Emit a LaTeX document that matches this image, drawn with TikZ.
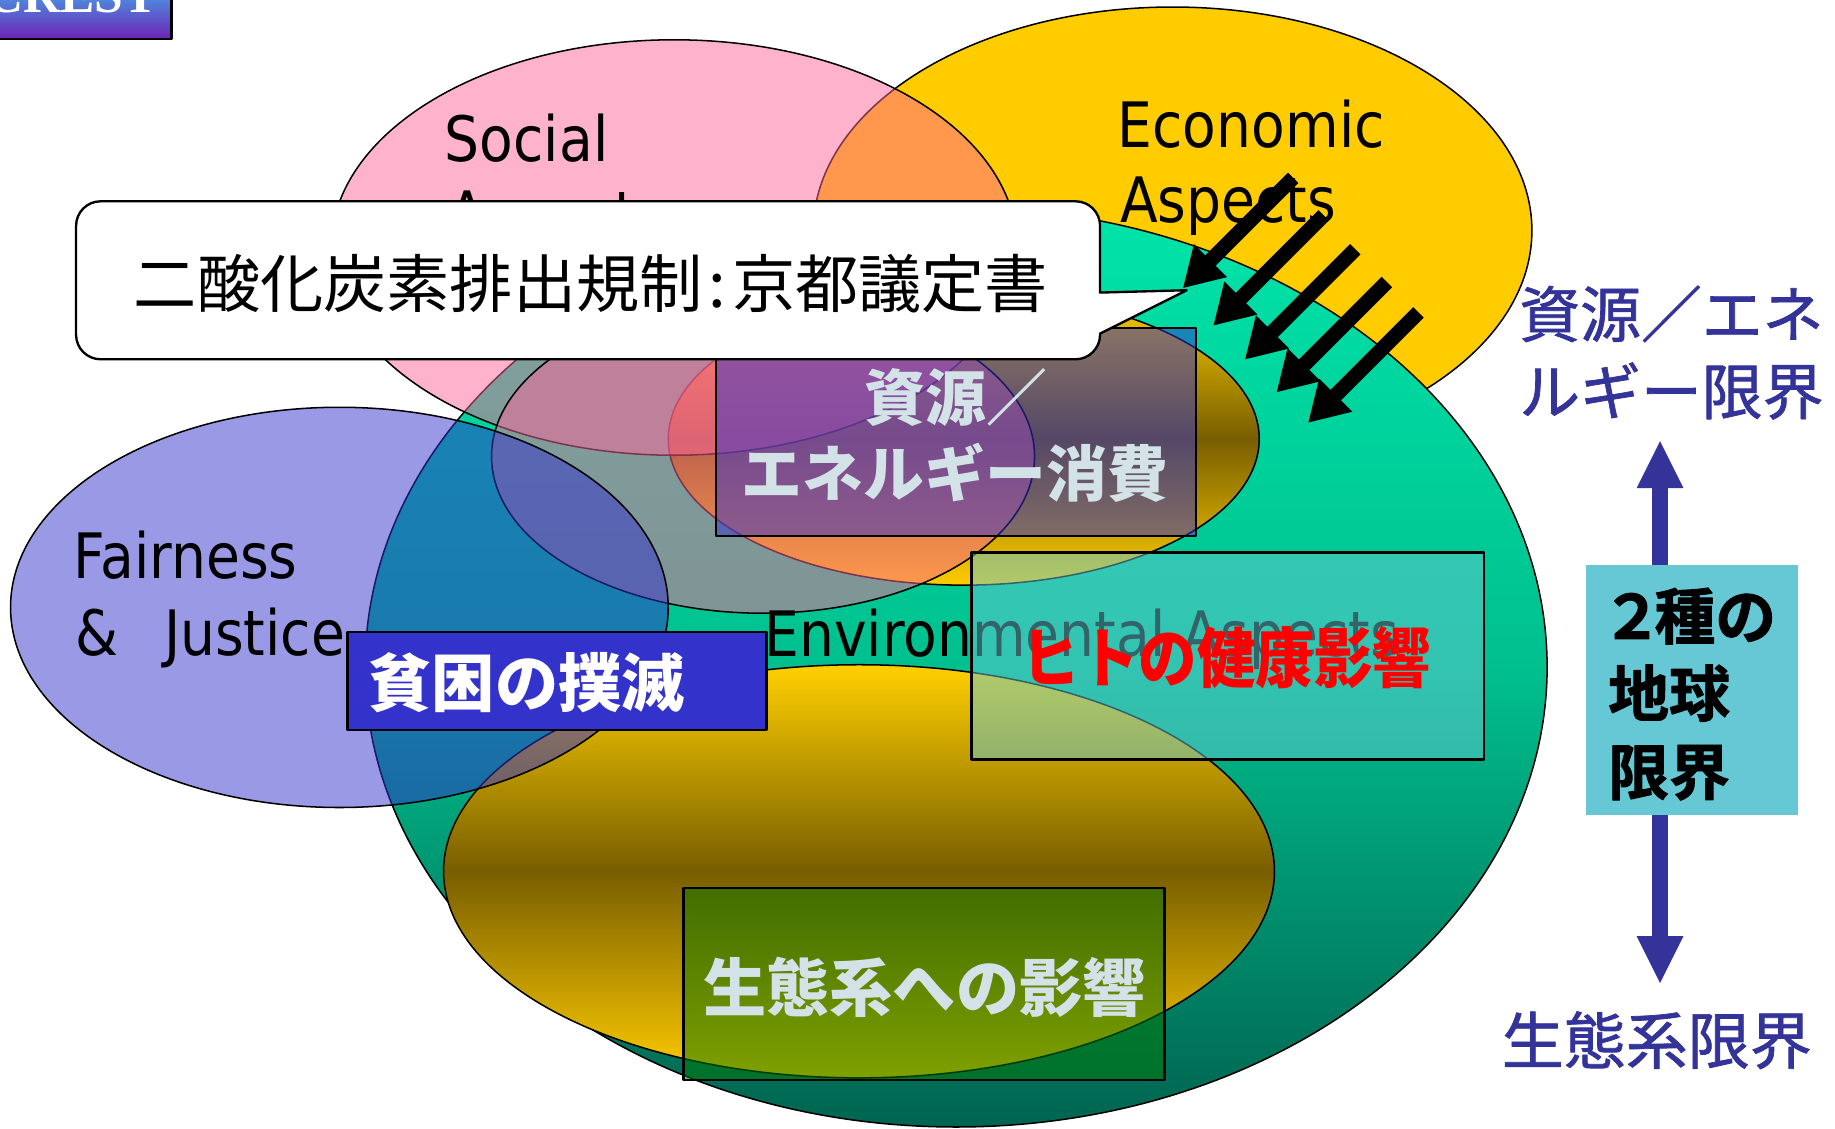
\documentclass[tikz,border=0pt]{standalone}
\usepackage{fontspec}
\newfontfamily\lat[FakeStretch=0.88]{DejaVu Sans}
\newfontfamily\jp{Noto Sans CJK JP}
\newfontfamily\jpmed[FakeBold=1.2]{Noto Sans CJK JP}
\newfontfamily\jpheavy[UprightFont={* Bold}, FakeBold=1.5, RawFeature=+palt]{Noto Sans CJK JP}
\newfontfamily\ser{Liberation Serif}
\definecolor{pinkc}{RGB}{255,102,153}
\definecolor{yel}{RGB}{255,204,0}
\definecolor{fairc}{RGB}{51,51,204}
\definecolor{navyc}{RGB}{51,51,153}
\definecolor{cyanb}{RGB}{102,200,212}
\definecolor{greenb}{RGB}{0,118,0}
\definecolor{lightt}{RGB}{210,226,230}
\definecolor{gtop}{RGB}{0,228,170}
\definecolor{gmid}{RGB}{0,192,142}
\definecolor{gbot}{RGB}{0,100,80}
\definecolor{ytop}{RGB}{255,208,0}
\definecolor{ymid}{RGB}{120,94,0}
\definecolor{ybot}{RGB}{255,204,0}
\definecolor{crestA}{RGB}{75,145,225}
\definecolor{crestB}{RGB}{110,35,180}
\tikzset{
  outl/.style={draw=black, line width=1.3pt},
  boxl/.style={draw=black, line width=2pt},
  ybshade/.style={top color=ytop, bottom color=ybot, middle color=ymid},
  latin/.style={inner sep=0pt, anchor=base west, font=\lat\fontsize{53.5}{64}\selectfont},
  jpb/.style={inner sep=0pt, anchor=base, font=\jp\bfseries\fontsize{#1}{#1}\selectfont},
  jph/.style={inner sep=0pt, anchor=base west, font=\jpheavy\fontsize{#1}{#1}\selectfont},
  jpr/.style={inner sep=0pt, anchor=base west, font=\jpmed\fontsize{#1}{#1}\selectfont},
  blockarrow/.style={fill=black, draw=none}
}
\begin{document}
\begin{tikzpicture}[x=1pt,y=-1pt,line join=round]
\useasboundingbox (0,0) rectangle (1568,964);
% CREST logo (cut by the top edge)
\shade[top color=crestA, bottom color=crestB] (-5,-5) rectangle (146.5,33.4);
\node[anchor=base west, inner sep=0pt, text=white, font={\ser\bfseries\fontsize{44}{44}\selectfont}] (crest) at (-12,10.5) {CREST};
\draw[line width=2.4pt] (-5,-5) rectangle (146.5,33.4);

% Economic aspects
\draw[outl, fill=yel] (1002,197) ellipse [x radius=307pt, y radius=191pt];
% Environmental aspects
\path[outl, top color=gtop, bottom color=gbot, middle color=gmid] (817,570) ellipse [x radius=505pt, y radius=393pt];
% resource ellipse
\path[outl, ybshade] (823.5,375) ellipse [x radius=252.5pt, y radius=125pt];
% ecosystem ellipse
\path[outl, ybshade] (734,744.5) ellipse [x radius=355pt, y radius=176.5pt];
% Social aspects
\draw[outl, fill=pinkc, fill opacity=0.5] (576,211.5) ellipse [x radius=293pt, y radius=177.5pt];
% inner pink ellipse
\draw[outl, fill=pinkc, fill opacity=0.5] (652,390) ellipse [x radius=232pt, y radius=134pt];
% Fairness & Justice
\draw[outl, fill=fairc, fill opacity=0.5] (290,519) ellipse [x radius=281pt, y radius=171pt];

% Latin labels
\node[latin] (soc1) at (380,138) {Social};
\node[latin] (soc2) at (383,202) {Aspects};
\node[latin] (eco1) at (955,126) {Economic};
\node[latin] (eco2) at (957,190) {Aspects};
\node[latin] (fair1) at (63,494) {Fairness};
\node[latin] (fair2) at (64,560) {\&};
\node[latin] (fair3) at (140,560) {Justice};
\node[latin] (env) at (653,561) {Environmental Aspects};

% translucent boxes
\path[boxl, fill=fairc, fill opacity=0.5] (612,280) rectangle (1022,458);
\path[boxl, fill=cyanb, fill opacity=0.5] (830,472) rectangle (1268,649);
\path[boxl, fill=greenb, fill opacity=0.5] (584,759) rectangle (995,923);
\path[boxl, fill=fairc] (297,540) rectangle (655,624);

\node[jpb=52, text=lightt] (res1) at (817,359) {資源／};
\node[jpb=52, text=lightt] (res2) at (816,424) {エネルギー消費};
\node[jpb=50, text=red] (hlth) at (1048,583) {\scalebox{1}[1.12]{ヒトの健康影響}};
\node[jpb=54, text=lightt] (ecot) at (790,864) {生態系への影響};
\node[jpb=54, text=white] (pov) at (450,604) {貧困の撲滅};

% right side: two planetary limits
\fill[navyc] (1418.5,377) -- (1438.5,417) -- (1425.2,417) -- (1425.2,800) -- (1438.5,800) -- (1418.5,840)
  -- (1398.5,800) -- (1411.8,800) -- (1411.8,417) -- (1398.5,417) -- cycle;
\fill[cyanb] (1355,483) rectangle (1536,696);
\node[jph=52] (lim1) at (1374,546) {２種の};
\node[jph=52] (lim2) at (1374,612) {地球};
\node[jph=52] (lim3) at (1374,679) {限界};
\node[jpr=52, text=navyc] (nv1) at (1298,288) {資源／エネ};
\node[jpr=52, text=navyc] (nv2) at (1298,354) {ルギー限界};
\node[jpr=53, text=navyc] (nv3) at (1283,909) {生態系限界};

% callout
\draw[line width=2pt, fill=white] (86,172) -- (919,172) arc[start angle=90,end angle=0,radius=21pt]
  -- (940,250) -- (1014,248) -- (940,285) -- (940,286) arc[start angle=0,end angle=-90,radius=21pt]
  -- (86,307) arc[start angle=270,end angle=180,radius=21pt]
  -- (65,193) arc[start angle=180,end angle=90,radius=21pt] -- cycle;
\node[inner sep=0pt, anchor=base, font=\jp\fontsize{54}{54}\selectfont] (callout) at (505,263) {二酸化炭素排出規制\kern5pt:\kern5pt京都議定書};

% black arrows
\coordinate (t1) at (1011,246);
\coordinate (t2) at (1037,278);
\coordinate (t3) at (1064,307);
\coordinate (t4) at (1091,335);
\coordinate (t5) at (1118,361);
\foreach \t in {t1,t2,t3,t4,t5} {
  \path[blockarrow, shift={(\t)}, rotate=45] (0,0) -- (33,-20) -- (33,-6.3) -- (133,-6.3) -- (133,6.3) -- (33,6.3) -- (33,20) -- cycle;
}
\end{tikzpicture}
\end{document}
